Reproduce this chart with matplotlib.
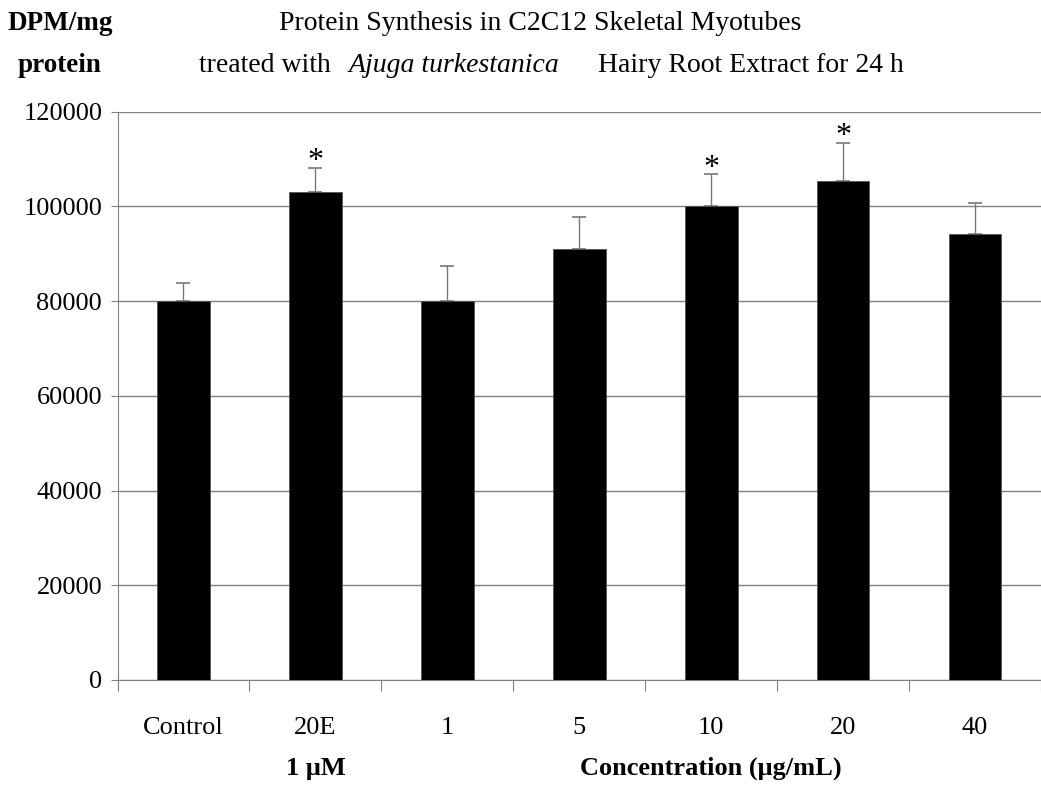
import matplotlib
matplotlib.use("Agg")
import matplotlib.pyplot as plt
import numpy as np

categories = ["Control", "20E", "1", "5", "10", "20", "40"]
means = [80000, 103100, 80000, 91100, 100000, 105300, 94100]
errors = [3800, 5000, 7500, 6700, 6800, 8100, 6700]
significant = [False, True, False, False, True, True, False]
yticks = [0, 20000, 40000, 60000, 80000, 100000, 120000]

plt.rcParams['font.family'] = ['Liberation Serif', 'DejaVu Serif']

fig = plt.figure(figsize=(10.41, 7.85), dpi=100)
ax = fig.add_axes([117.5 / 1041, 105 / 785, 1 - 117.5 / 1041, (680 - 111.7) / 785])

x = np.arange(len(categories))
ax.bar(x, means, width=0.4, color='black', edgecolor='#555555', linewidth=0.6, zorder=3)
ax.errorbar(x, means, yerr=[np.zeros(len(errors)), errors], fmt='none',
            ecolor='#777777', elinewidth=1.0, capsize=5, capthick=1.2, zorder=2)

for xi, m, e, s in zip(x, means, errors, significant):
    if s:
        ax.annotate('*', (xi, m + e), xytext=(0, -6), textcoords='offset points',
                    ha='center', va='bottom', fontsize=23)

ax.set_ylim(0, 120000)
ax.set_xlim(-0.5, -0.5 + (1041 - 117.5) / 132.7)
ax.set_yticks(yticks)
ax.set_yticklabels([str(v) for v in yticks], fontsize=19)
ax.yaxis.grid(True, color='#808080', linewidth=1.0, zorder=0)
ax.set_axisbelow(True)

ax.set_xticks(np.arange(len(categories) + 1) - 0.5)
ax.set_xticklabels([])
ax.set_xticks(x, minor=True)
ax.set_xticklabels(categories, minor=True, fontsize=19)
ax.tick_params(axis='x', which='major', length=8, direction='out', color='#808080')
ax.tick_params(axis='x', which='minor', length=0, pad=27)
ax.tick_params(axis='y', length=5, direction='out', color='#808080', pad=6)

for sp in ['top', 'right']:
    ax.spines[sp].set_visible(False)
ax.spines['left'].set_color('#808080')
ax.spines['bottom'].set_color('#808080')

# bottom group labels
ax.text(1, -0.155, '1 \u03bcM', transform=ax.get_xaxis_transform(), ha='center', va='center',
        fontsize=19, fontweight='bold')
ax.text(4, -0.155, 'Concentration (\u03bcg/mL)', transform=ax.get_xaxis_transform(), ha='center',
        va='center', fontsize=19, fontweight='bold')

# titles
fig.text(540 / 1041, 1 - 23 / 785, 'Protein Synthesis in C2C12 Skeletal Myotubes',
         ha='center', va='center', fontsize=20)
fig.text(199 / 1041, 1 - 65 / 785, 'treated with', ha='left', va='center', fontsize=20)
fig.text(349 / 1041, 1 - 65 / 785, 'Ajuga turkestanica', ha='left', va='center', fontsize=20,
         style='italic')
fig.text(598 / 1041, 1 - 65 / 785, 'Hairy Root Extract for 24 h', ha='left', va='center',
         fontsize=20)

fig.text(60 / 1041, 1 - 23 / 785, 'DPM/mg', ha='center', va='center', fontsize=19.5,
         fontweight='bold')
fig.text(59 / 1041, 1 - 65 / 785, 'protein', ha='center', va='center', fontsize=19.5,
         fontweight='bold')

fig.savefig('out.png', dpi=100)
